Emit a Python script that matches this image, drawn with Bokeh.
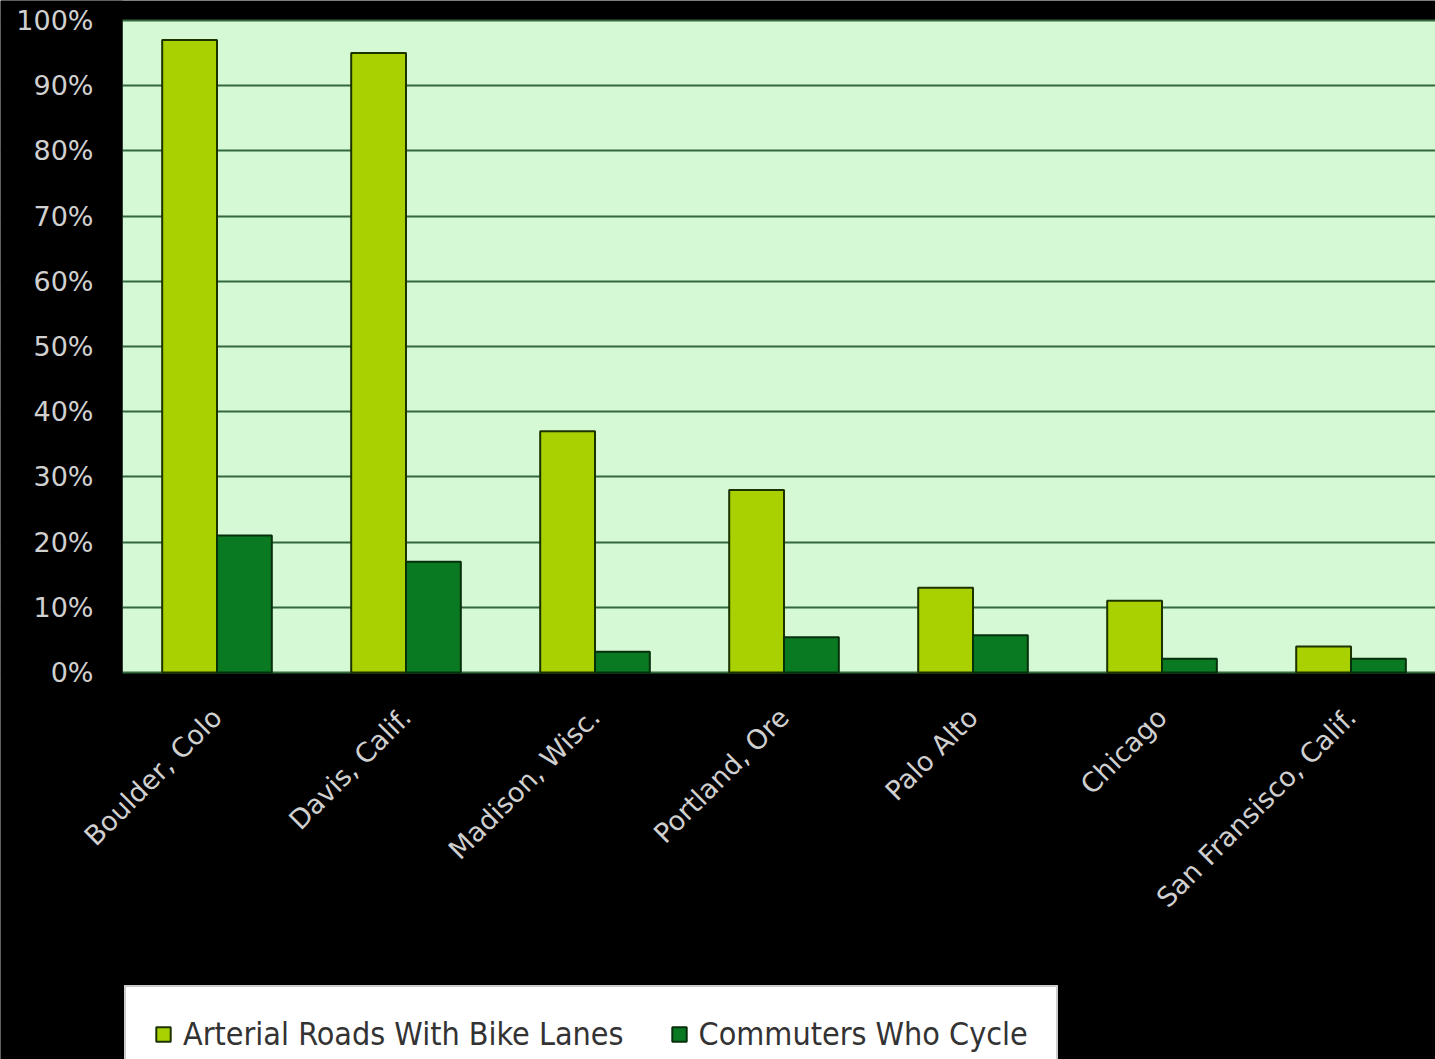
from bokeh.plotting import figure
from bokeh.models import Range1d, FixedTicker, Legend, LegendItem, BoxAnnotation
from bokeh.embed import file_html
from bokeh.resources import INLINE

cities = ["Boulder, Colo", "Davis, Calif.", "Madison, Wisc.", "Portland, Ore",
          "Palo Alto", "Chicago", "San Fransisco, Calif."]
arterial = [97, 95, 37, 28, 13, 11, 4]
commuters = [21, 17, 3.2, 5.4, 5.7, 2.1, 2.1]
series_names = ["Arterial Roads With Bike Lanes", "Commuters Who Cycle"]
y_ticks = [0, 10, 20, 30, 40, 50, 60, 70, 80, 90, 100]

LIGHT = "#a9d000"
DARK = "#0a7a22"
PLOT_BG = "#d5f8d5"

n = len(cities)
centers = [i + 0.5 for i in range(n)]
bw = 0.29

# the frame fills the whole page; the plotting area starts at x=122,
# 100% sits at y=20 and 0% at y=672
x_end = 6.947
x_min = -122 / ((1435 - 122) / x_end)
px_per_pct = (672 - 20) / 100
y_min = -(1059 - 672) / px_per_pct
y_max = 100 + 20 / px_per_pct

p = figure(width=1435, height=1059, output_backend="svg", toolbar_location=None,
           x_range=Range1d(x_min, x_end), y_range=Range1d(y_min, y_max),
           min_border_left=0, min_border_right=0, min_border_top=0,
           min_border_bottom=0)
p.background_fill_color = "#000000"
p.border_fill_color = "#000000"
p.outline_line_color = None

p.add_layout(BoxAnnotation(bottom=0, top=100, left=0, fill_color=PLOT_BG, fill_alpha=1,
                           line_color=None, level="image"))

r1 = p.vbar(x=[c - bw / 2 for c in centers], top=arterial, width=bw,
            fill_color=LIGHT, line_color="#1c3300", line_width=2)
r2 = p.vbar(x=[c + bw / 2 for c in centers], top=commuters, width=bw,
            fill_color=DARK, line_color="#06300c", line_width=2)

p.xgrid.grid_line_color = None
p.ygrid.ticker = FixedTicker(ticks=y_ticks)
p.ygrid.grid_line_color = "#33683f"
p.ygrid.grid_line_width = 2
p.ygrid.level = "underlay"
# hide grid lines left of the plotting area
p.add_layout(BoxAnnotation(right=0, fill_color="#000000", fill_alpha=1,
                           line_color=None, level="underlay"))

yax = p.yaxis[0]
yax.fixed_location = 0
yax.ticker = FixedTicker(ticks=y_ticks)
yax.major_label_overrides = {t: f"{t}%" for t in y_ticks}
yax.axis_line_color = None
yax.major_tick_line_color = None
yax.minor_tick_line_color = None
yax.major_tick_out = 0
yax.major_label_text_color = "#d0d0d0"
yax.major_label_text_font = "DejaVu Sans"
yax.major_label_text_font_size = "27px"
yax.major_label_standoff = 29

xax = p.xaxis[0]
xax.fixed_location = 0
xax.ticker = FixedTicker(ticks=centers)
xax.major_label_overrides = {c: name for c, name in zip(centers, cities)}
xax.major_label_orientation = 0.785398
xax.axis_line_color = None
xax.major_tick_line_color = None
xax.minor_tick_line_color = None
xax.major_tick_out = 0
xax.major_label_text_color = "#d0d0d0"
xax.major_label_text_font = "DejaVu Sans"
xax.major_label_text_font_size = "27px"
xax.major_label_standoff = 40

legend = Legend(items=[LegendItem(label=series_names[0], renderers=[r1]),
                       LegendItem(label=series_names[1], renderers=[r2])],
                orientation="horizontal", location=(124, -24),
                background_fill_color="#ffffff", background_fill_alpha=1,
                border_line_color="#9a9a9a", border_line_width=2,
                padding=28, spacing=46, glyph_width=18, glyph_height=18,
                label_height=36,
                label_text_font="DejaVu Sans Condensed", label_text_font_size="32px",
                label_text_color="#333333", label_standoff=11, margin=0)
p.add_layout(legend, "center")

open("out.html", "w").write(file_html(p, INLINE))
